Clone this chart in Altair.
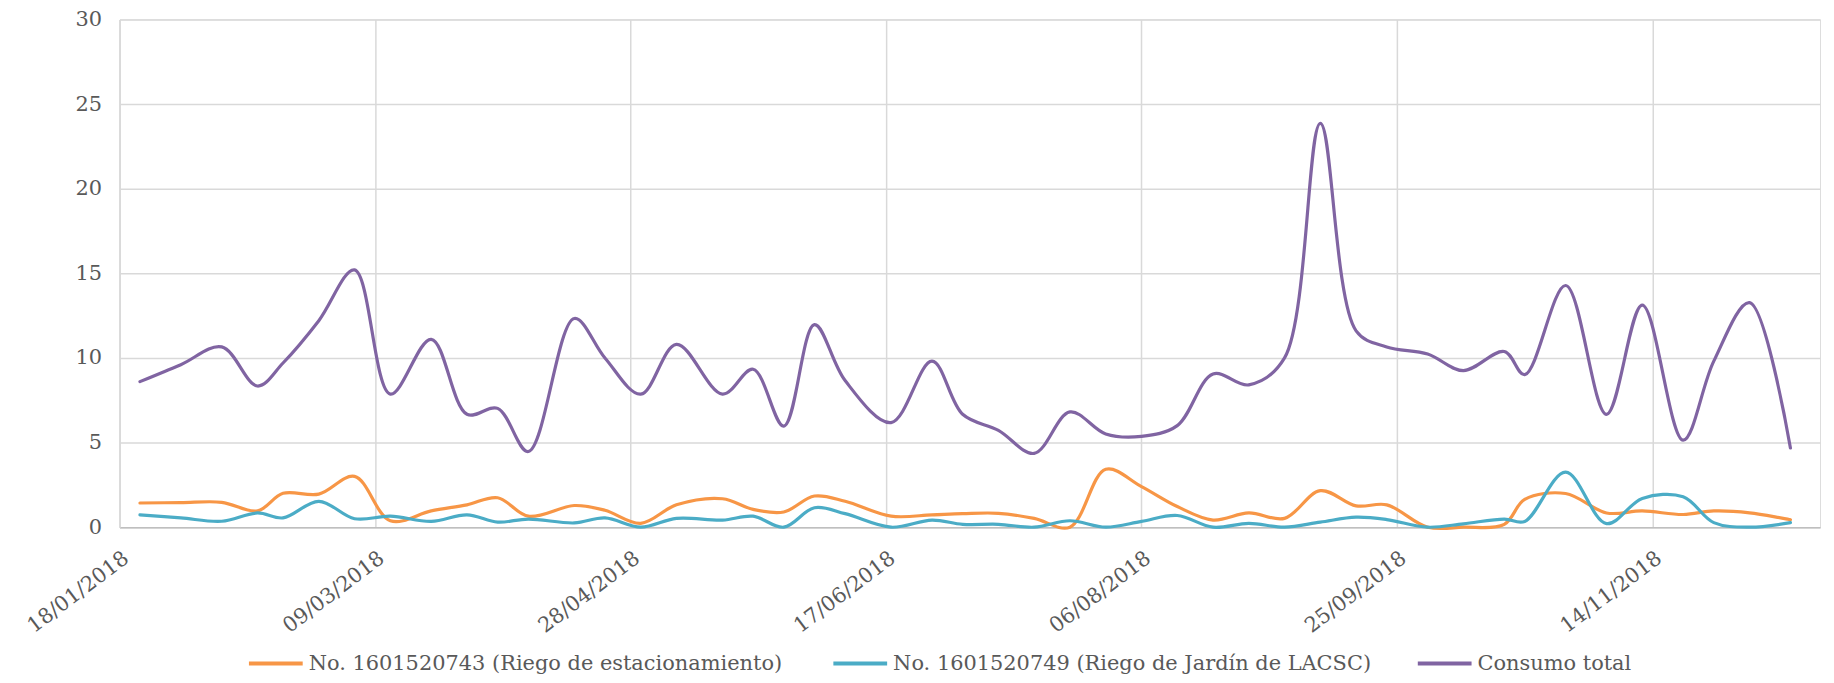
import altair as alt
import pandas as pd

dates = [
    "2018-01-22", "2018-01-30", "2018-02-07", "2018-02-14", "2018-02-19", "2018-02-26",
    "2018-03-05", "2018-03-12", "2018-03-20", "2018-03-27", "2018-04-02", "2018-04-08",
    "2018-04-17", "2018-04-23", "2018-04-30", "2018-05-07", "2018-05-16", "2018-05-22",
    "2018-05-28", "2018-06-03", "2018-06-09", "2018-06-18", "2018-06-26", "2018-07-02",
    "2018-07-09", "2018-07-16", "2018-07-23", "2018-07-30", "2018-08-06", "2018-08-13",
    "2018-08-20", "2018-08-27", "2018-09-03", "2018-09-10", "2018-09-17", "2018-09-23",
    "2018-10-01", "2018-10-08", "2018-10-16", "2018-10-20", "2018-10-28", "2018-11-05",
    "2018-11-12", "2018-11-20", "2018-11-26", "2018-12-03", "2018-12-11",
]

riego_estacionamiento = [
    1.43, 1.45, 1.47, 0.96, 2.0, 1.95,
    3.0, 0.38, 0.96, 1.32, 1.74, 0.65,
    1.28, 1.0, 0.23, 1.32, 1.68, 1.05,
    0.9, 1.84, 1.53, 0.65, 0.73, 0.8,
    0.82, 0.52, 0.0, 3.42, 2.4, 1.22,
    0.42, 0.84, 0.52, 2.16, 1.26, 1.32,
    0.0, 0.0, 0.17, 1.64, 1.99, 0.84,
    0.96, 0.75, 0.96, 0.85, 0.44,
]

riego_jardin = [
    0.73, 0.55, 0.35, 0.84, 0.55, 1.53,
    0.5, 0.65, 0.34, 0.73, 0.3, 0.48,
    0.25, 0.55, 0.0, 0.52, 0.42, 0.65,
    0.0, 1.15, 0.8, 0.0, 0.42, 0.17,
    0.17, 0.0, 0.38, 0.0, 0.34, 0.69,
    0.0, 0.23, 0.0, 0.3, 0.59, 0.45,
    0.0, 0.2, 0.48, 0.34, 3.25, 0.21,
    1.7, 1.8, 0.27, 0.0, 0.27,
]

consumo_total = [
    8.6, 9.6, 10.65, 8.34, 9.7, 12.2,
    15.2, 7.86, 11.1, 6.67, 7.02, 4.47,
    12.33, 10.0, 7.86, 10.8, 7.86, 9.33,
    5.97, 11.97, 8.66, 6.18, 9.81, 6.67,
    5.72, 4.36, 6.81, 5.51, 5.37, 6.0,
    9.05, 8.41, 10.0, 23.86, 11.6, 10.65,
    10.23, 9.25, 10.38, 9.01, 14.28, 6.67,
    13.12, 5.14, 9.81, 13.27, 4.68,
]

series_names = [
    "No. 1601520743 (Riego de estacionamiento)",
    "No. 1601520749 (Riego de Jardín de LACSC)",
    "Consumo total",
]
series_colors = ["#F79646", "#4BACC6", "#8064A2"]

y_ticks = [0, 5, 10, 15, 20, 25, 30]

rows = []
for name, vals in zip(series_names, [riego_estacionamiento, riego_jardin, consumo_total]):
    for d, v in zip(dates, vals):
        rows.append({"fecha": d + "T00:00:00", "serie": name, "valor": v})
df = pd.DataFrame(rows)

font = "DejaVu Serif"
fsize = 21
label_color = "#595959"

x_ticks = [
    alt.DateTime(year=2018, month=1, date=18),
    alt.DateTime(year=2018, month=3, date=9),
    alt.DateTime(year=2018, month=4, date=28),
    alt.DateTime(year=2018, month=6, date=17),
    alt.DateTime(year=2018, month=8, date=6),
    alt.DateTime(year=2018, month=9, date=25),
    alt.DateTime(year=2018, month=11, date=14),
]

chart = (
    alt.Chart(df)
    .mark_line(interpolate="catmull-rom", strokeWidth=3.2, strokeCap="round")
    .encode(
        x=alt.X(
            "fecha:T",
            title=None,
            scale=alt.Scale(
                domain=[
                    alt.DateTime(year=2018, month=1, date=18),
                    alt.DateTime(year=2018, month=12, date=16, hours=19),
                ]
            ),
            axis=alt.Axis(
                values=x_ticks,
                format="%d/%m/%Y",
                labelAngle=-37,
                labelAlign="right",
                labelBaseline="top",
                labelPadding=20,
                ticks=False,
                grid=True,
                gridColor="#D9D9D9",
                gridWidth=1.5,
                domainColor="#BFBFBF",
                domainWidth=1.5,
                labelFont=font,
                labelFontSize=fsize,
                labelColor=label_color,
                labelOverlap=False,
                labelBound=False,
                labelFlush=False,
            ),
        ),
        y=alt.Y(
            "valor:Q",
            title=None,
            scale=alt.Scale(domain=[0, 30], nice=False),
            axis=alt.Axis(
                values=y_ticks,
                ticks=False,
                grid=True,
                gridColor="#D9D9D9",
                gridWidth=1.5,
                domainColor="#D9D9D9",
                domainWidth=1.5,
                labelPadding=18,
                labelFont=font,
                labelFontSize=fsize,
                labelColor=label_color,
            ),
        ),
        color=alt.Color(
            "serie:N",
            scale=alt.Scale(domain=series_names, range=series_colors),
            legend=alt.Legend(
                title=None,
                orient="none",
                legendX=128,
                legendY=618,
                direction="horizontal",
                columns=3,
                gridAlign="all",
                columnPadding=38,
                symbolType="stroke",
                symbolSize=2916,
                symbolStrokeWidth=4,
                labelOffset=4,
                labelFont=font,
                labelFontSize=fsize,
                labelColor=label_color,
                labelLimit=1000,
                padding=0,
            ),
        ),
        order=alt.Order("fecha:T"),
    )
    .properties(
        width=1708,
        height=510,
        autosize=alt.AutoSizeParams(type="none"),
        padding={"left": 112, "top": 10, "right": 6, "bottom": 147},
    )
    .configure_view(stroke=None)
    .configure(background="white")
)

chart.save("out.html", embed_options={"renderer": "svg", "actions": False})
